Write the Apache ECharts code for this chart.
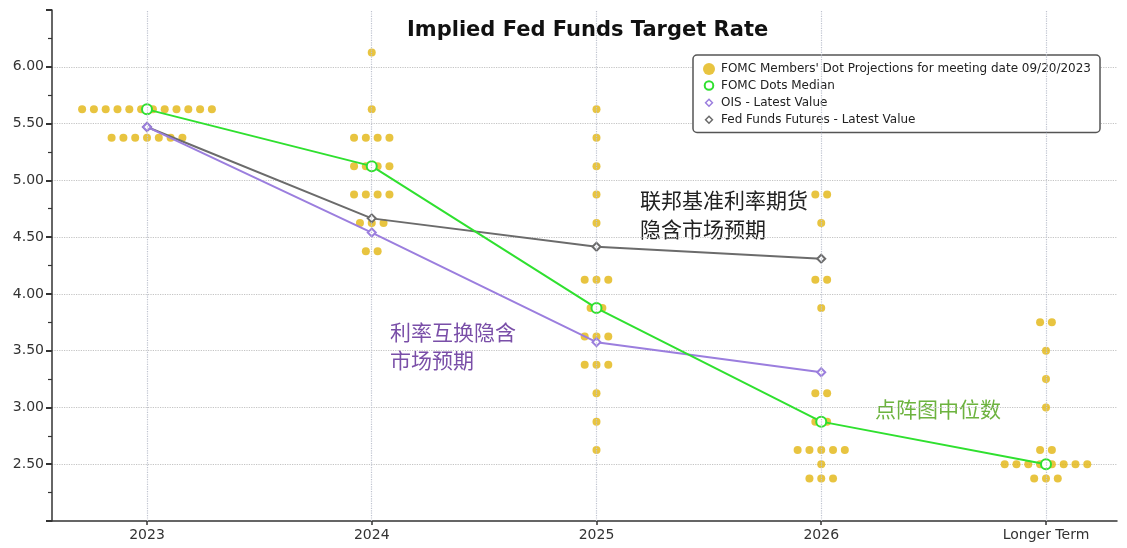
<!DOCTYPE html>
<html>
<head>
<meta charset="utf-8">
<script src="https://cdn.jsdelivr.net/npm/echarts@6/dist/echarts.min.js"></script>
<style>
html,body{margin:0;padding:0;background:#fff;}
#chart{width:1127px;height:548px;}
</style>
</head>
<body>
<div id="chart"></div>
<script>
// categories on the x axis
var categories = ['2023', '2024', '2025', '2026', 'Longer Term'];

// FOMC dot plot: [rate, number of members] per year
var dots2023 = [[5.625, 12], [5.375, 7]];
var dots2024 = [[6.125, 1], [5.625, 1], [5.375, 4], [5.125, 4], [4.875, 4], [4.625, 3], [4.375, 2]];
var dots2025 = [[5.625, 1], [5.375, 1], [5.125, 1], [4.875, 1], [4.625, 1], [4.125, 3], [3.875, 2], [3.625, 3], [3.375, 3], [3.125, 1], [2.875, 1], [2.625, 1]];
var dots2026 = [[4.875, 2], [4.625, 1], [4.125, 2], [3.875, 1], [3.125, 2], [2.875, 2], [2.625, 5], [2.5, 1], [2.375, 3]];
var dotsLonger = [[3.75, 2], [3.5, 1], [3.25, 1], [3.0, 1], [2.625, 2], [2.5, 8], [2.375, 3]];

var medianValues = [5.625, 5.125, 3.875, 2.875, 2.5];
var oisValues = [5.47, 4.54, 3.575, 3.31];
var futuresValues = [5.47, 4.665, 4.415, 4.31];

// spread the dots of one rate side by side around the category
var dotStep = 0.0525;
var dotData = [];
[dots2023, dots2024, dots2025, dots2026, dotsLonger].forEach(function (rows, i) {
	rows.forEach(function (r) {
		for (var k = 0; k < r[1]; k++) {
			dotData.push([i + (k - (r[1] - 1) / 2) * dotStep, r[0]]);
		}
	});
});

function toPoints(arr) {
	return arr.map(function (v, i) { return [i, v]; });
}

var cjk = '"Noto Sans CJK SC", sans-serif';
// small legend icons inside a larger invisible box
var smallCircle = 'path://M0,0 m-5,0 a5,5 0 1,0 10,0 a5,5 0 1,0 -10,0 M-7,-7 M7,7';
var smallDiamond = 'path://M0,-4 L4,0 L0,4 L-4,0 Z M-7,-7 M7,7';

var myChart = echarts.init(document.getElementById('chart'), null, { renderer: 'canvas' });
var option = {
	animation: false,
	backgroundColor: '#fff',
	title: {
		text: 'Implied Fed Funds Target Rate',
		left: 402,
		top: 15,
		textStyle: { fontFamily: 'DejaVu Sans', fontSize: 21, fontWeight: 'bold', color: '#111' }
	},
	grid: { left: 52, right: 10, top: 10, bottom: 27 },
	legend: {
		orient: 'vertical',
		left: 693,
		top: 55,
		padding: [8, 9, 6, 9],
		itemGap: 3.5,
		itemWidth: 14,
		itemHeight: 12,
		backgroundColor: '#fff',
		borderColor: '#555',
		borderWidth: 1.5,
		borderRadius: 4,
		textStyle: { fontFamily: 'DejaVu Sans', fontSize: 12, color: '#222' },
		data: [
			{ name: "FOMC Members' Dot Projections for meeting date 09/20/2023", icon: 'circle', itemStyle: { color: '#E2B510' } },
			{ name: 'FOMC Dots Median', icon: smallCircle, itemStyle: { color: '#fff', borderColor: '#2FE02F', borderWidth: 2 } },
			{ name: 'OIS - Latest Value', icon: smallDiamond, itemStyle: { color: '#fff', borderColor: '#9B7EDE', borderWidth: 1.5 } },
			{ name: 'Fed Funds Futures - Latest Value', icon: smallDiamond, itemStyle: { color: '#fff', borderColor: '#6B6B6B', borderWidth: 1.5 } }
		]
	},
	xAxis: {
		type: 'value',
		min: -0.4227,
		max: 4.316,
		axisLine: { onZero: false, lineStyle: { color: '#333', width: 1.5 } },
		axisTick: { show: true, length: 4, customValues: [0, 1, 2, 3, 4], lineStyle: { color: '#333', width: 1.5 } },
		axisLabel: {
			customValues: [0, 1, 2, 3, 4],
			formatter: function (v) { return categories[Math.round(v)]; },
			fontFamily: 'DejaVu Sans', fontSize: 14, color: '#333', margin: 7
		},
		splitLine: { show: false }
	},
	yAxis: {
		type: 'value',
		min: 2,
		max: 6.5,
		interval: 0.5,
		axisLine: { show: true, onZero: false, lineStyle: { color: '#333', width: 1.5 } },
		axisTick: { show: true, length: 6, lineStyle: { color: '#333', width: 2 } },
		minorTick: { show: true, splitNumber: 2, length: 4, lineStyle: { color: '#333', width: 1.2 } },
		axisLabel: {
			showMinLabel: false,
			showMaxLabel: false,
			formatter: function (v) { return v.toFixed(2); },
			fontFamily: 'DejaVu Sans', fontSize: 14, color: '#333', margin: 8
		},
		splitLine: { show: true, showMinLine: false, showMaxLine: false, lineStyle: { type: 'dotted', color: '#c4c4c4', width: 1.2 } }
	},
	graphic: [
		{ type: 'text', left: 640, top: 186, style: { text: '联邦基准利率期货\n隐含市场预期', font: '21px ' + cjk, lineHeight: 29, fill: '#222' } },
		{ type: 'text', left: 390, top: 318, style: { text: '利率互换隐含\n市场预期', font: '21px ' + cjk, lineHeight: 28, fill: '#7A4FA8' } },
		{ type: 'text', left: 875, top: 399, style: { text: '点阵图中位数', font: '21px ' + cjk, fill: '#6DB33F' } }
	],
	series: [
		{
			// vertical dotted grid lines at each category
			type: 'line',
			z: 0,
			silent: true,
			data: [],
			markLine: {
				silent: true,
				symbol: 'none',
				label: { show: false },
				lineStyle: { type: 'dotted', color: '#bfc3cf', width: 1.2 },
				data: categories.map(function (c, i) { return { xAxis: i }; })
			}
		},
		{
			name: "FOMC Members' Dot Projections for meeting date 09/20/2023",
			type: 'scatter',
			symbol: 'circle',
			symbolSize: 8,
			itemStyle: { color: '#E2B510' },
			data: dotData
		},
		{
			name: 'Fed Funds Futures - Latest Value',
			type: 'line',
			symbol: 'emptyDiamond',
			symbolSize: 8,
			lineStyle: { color: '#6B6B6B', width: 2 },
			itemStyle: { color: '#6B6B6B' },
			data: toPoints(futuresValues)
		},
		{
			name: 'OIS - Latest Value',
			type: 'line',
			symbol: 'emptyDiamond',
			symbolSize: 8,
			lineStyle: { color: '#9B7EDE', width: 2 },
			itemStyle: { color: '#9B7EDE' },
			data: toPoints(oisValues)
		},
		{
			name: 'FOMC Dots Median',
			type: 'line',
			symbol: 'emptyCircle',
			symbolSize: 10,
			lineStyle: { color: '#2FE02F', width: 2 },
			itemStyle: { color: '#2FE02F', borderWidth: 2 },
			data: toPoints(medianValues)
		}
	]
};
myChart.setOption(option);
</script>
</body>
</html>
